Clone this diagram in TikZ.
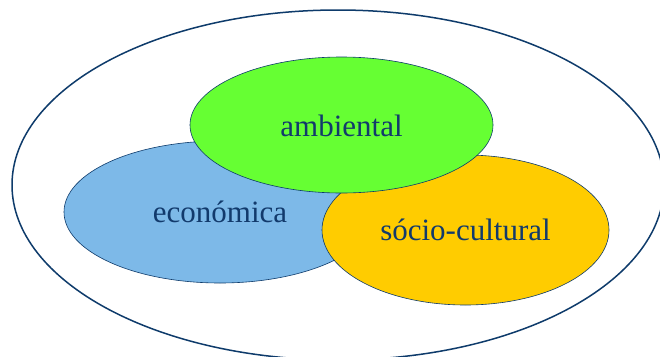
\documentclass[tikz,border=0pt]{standalone}
\usepackage{fontspec}
\setmainfont{Liberation Serif}
\usetikzlibrary{shapes.geometric}
\definecolor{navy}{HTML}{0E3B6B}
\definecolor{txtblue}{HTML}{123A6C}
\definecolor{ecoblue}{HTML}{7DB9E8}
\definecolor{ambgreen}{HTML}{66FF33}
\definecolor{socyellow}{HTML}{FFCC00}
\begin{document}
\begin{tikzpicture}[x=1pt,y=-1pt,
  blob/.style={ellipse, draw=navy, line width=0.6pt, inner sep=0pt,
    text=txtblue, font=\fontsize{31}{31}\selectfont},
  label/.style={text=txtblue, font=\fontsize{31}{31}\selectfont, inner sep=0pt}]
\useasboundingbox (0,0) rectangle (660,356);
\clip (0,0) rectangle (660,356);
\fill[white] (0,0) rectangle (660,356);
\node[ellipse, draw=navy, line width=1.5pt, minimum width=652pt, minimum height=350pt, inner sep=0pt] (outer) at (338,185) {};
\node[blob, fill=ecoblue, minimum width=312pt, minimum height=142pt] (eco) at (220,212) {};
\node[label] (ecot) at (220,212) {económica};
\node[blob, fill=socyellow, minimum width=287pt, minimum height=150pt] (soc) at (465.5,230) {};
\node[label] (soct) at (465.5,230) {sócio-cultural};
\node[blob, fill=ambgreen, minimum width=303pt, minimum height=136pt] (amb) at (341.5,125) {};
\node[label] (ambt) at (341.5,126) {ambiental};
\end{tikzpicture}
\end{document}
